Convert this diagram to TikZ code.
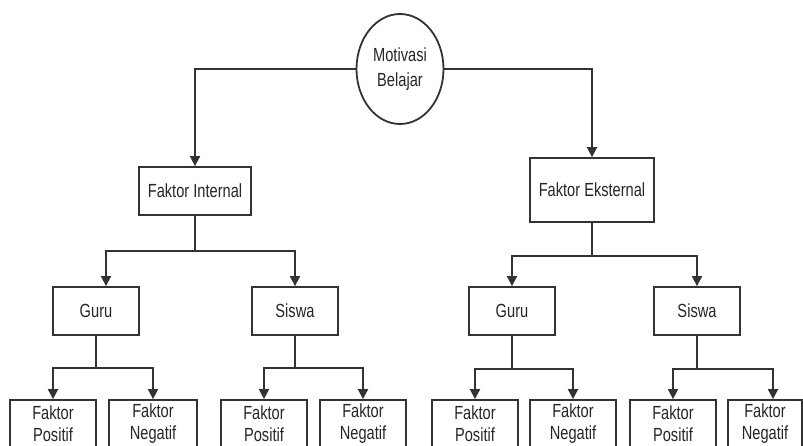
\documentclass[tikz,border=0pt]{standalone}
\usepackage{fontspec}
\setmainfont{Liberation Sans}[FakeStretch=0.77]
\usetikzlibrary{shapes.geometric,arrows.meta}
\begin{document}
\begin{tikzpicture}[x=1pt,y=-1pt,
  box/.style={draw=black!80, line width=1.8pt, rectangle, inner sep=0pt, align=center,
    font=\fontsize{19}{25}\selectfont, text=black!85},
  oval/.style={box, ellipse, minimum width=87pt, minimum height=110pt},
  mid/.style={box, minimum width=86pt, minimum height=48pt},
  leaf/.style={box, minimum width=86pt, minimum height=48pt, font=\fontsize{19}{22}\selectfont},
  link/.style={draw=black!80, line width=1.8pt},
  arr/.style={link, -{Triangle[width=10pt,length=10pt]}}]
\useasboundingbox (0,0) rectangle (803,445);
\clip (0,0) rectangle (803,445);
\fill[white] (0,0) rectangle (803,445);

% top
\node[oval] (mb) at (400,69) {Motivasi\\Belajar};
\node[box, minimum width=112pt, minimum height=48pt] (fi) at (195,191) {Faktor Internal};
\node[box, minimum width=124pt, minimum height=64pt] (fe) at (592,190) {Faktor Eksternal};

% middle
\node[mid] (gl) at (96,311) {Guru};
\node[mid] (sl) at (295,311) {Siswa};
\node[mid] (gr) at (512,311) {Guru};
\node[mid] (sr) at (697,311) {Siswa};

% leaves
\node[leaf] (glp) at (53,424) {Faktor\\Positif};
\node[leaf, minimum width=88pt] (gln) at (153,424) {Faktor\\Negatif};
\node[leaf] (slp) at (264,424) {Faktor\\Positif};
\node[leaf] (sln) at (363,424) {Faktor\\Negatif};
\node[leaf] (grp) at (475,424) {Faktor\\Positif};
\node[leaf] (grn) at (573,424) {Faktor\\Negatif};
\node[leaf] (srp) at (673,424) {Faktor\\Positif};
\node[leaf, minimum width=74pt] (srn) at (765,424) {Faktor\\Negatif};

% level 1
\draw[arr] (mb.west) -| (fi.north);
\draw[arr] (mb.east) -| (fe.north);

% level 2
\coordinate (ji) at (195,251);
\coordinate (je) at (592,256);
\draw[link] (fi.south) -- (ji);
\draw[arr] (ji) -| ([xshift=10pt]gl.north);
\draw[arr] (ji) -| (sl.north);
\draw[link] (fe.south) -- (je);
\draw[arr] (je) -| (gr.north);
\draw[arr] (je) -| (sr.north);

% level 3
\coordinate (jgl) at (96,368);
\coordinate (jsl) at (295,368);
\coordinate (jgr) at (512,369);
\coordinate (jsr) at (697,369);
\draw[link] (gl.south) -- (jgl);
\draw[arr] (jgl) -| (glp.north);
\draw[arr] (jgl) -| (gln.north);
\draw[link] (sl.south) -- (jsl);
\draw[arr] (jsl) -| (slp.north);
\draw[arr] (jsl) -| (sln.north);
\draw[link] (gr.south) -- (jgr);
\draw[arr] (jgr) -| (grp.north);
\draw[arr] (jgr) -| (grn.north);
\draw[link] (sr.south) -- (jsr);
\draw[arr] (jsr) -| (srp.north);
\draw[arr] (jsr) -| ([xshift=8pt]srn.north);
\end{tikzpicture}
\end{document}
